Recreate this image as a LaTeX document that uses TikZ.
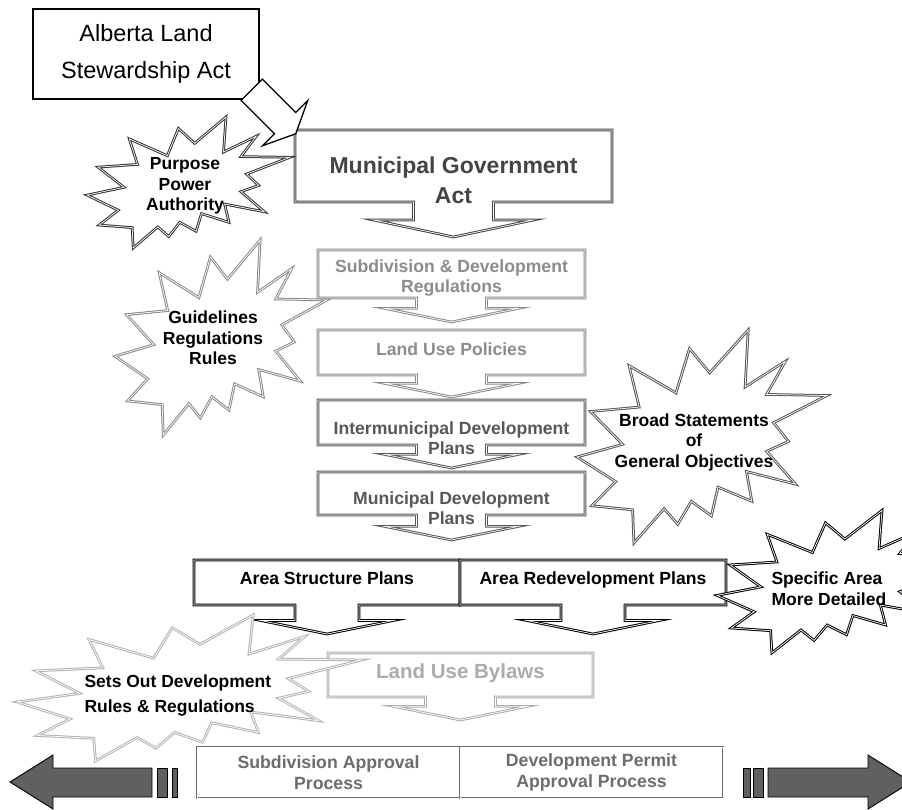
\documentclass[tikz,border=0pt]{standalone}
\usepackage{fontspec}
\setmainfont{Liberation Sans}
\usetikzlibrary{shapes.arrows,positioning}
\definecolor{actgray}{RGB}{68,68,68}
\definecolor{regsgray}{RGB}{140,140,140}
\definecolor{plangray}{RGB}{88,88,88}
\definecolor{bylawgray}{RGB}{172,172,172}
\definecolor{procgray}{RGB}{108,108,108}
\definecolor{sidegray}{RGB}{96,96,96}
\definecolor{burstdark}{RGB}{50,50,50}
\definecolor{burstmid}{RGB}{85,85,85}
\definecolor{burstlight}{RGB}{138,138,138}
\definecolor{burstpale}{RGB}{178,178,178}
% explosion outline, unit square
\newcommand\sealshape{(0.5306,0.201) -- (0.6847,0) -- (0.6725,0.2675) -- (0.8337,0.1469)
 -- (0.7583,0.3024) -- (1,0.3076) -- (0.7863,0.4353) -- (0.8458,0.5227) -- (0.7583,0.5699)
 -- (0.8739,0.7237) -- (0.6778,0.6644) -- (0.6995,0.8042) -- (0.5639,0.7377) -- (0.5376,0.8723)
 -- (0.457,0.8042) -- (0.4028,0.9126) -- (0.3485,0.8391) -- (0.2276,1) -- (0.2225,0.8444)
 -- (0.0595,0.8252) -- (0.1542,0.7116) -- (0,0.5962) -- (0.1822,0.5367) -- (0.0543,0.3827)
 -- (0.2487,0.3619) -- (0.2084,0.1678) -- (0.3958,0.2955) -- (0.4501,0.0874) -- cycle}
\tikzset{
 actbox/.style={
 rectangle,
 draw=black,
 line width=1.5pt,
 fill=white,
 align=center,
 minimum width=226pt,
 minimum height=90pt,
 font=\fontsize{23.5}{37}\selectfont
 },
 planbox/.style={
 arrow box,
 draw=#1,
 line width=1pt,
 double=white,
 double distance=0.7pt,
 fill=white,
 inner sep=0pt,
 outer sep=0pt,
 minimum width=267pt,
 arrow box arrows={north:0pt, east:0pt, west:0pt},
 arrow box shaft width=70pt,
 arrow box head extend=32pt,
 arrow box tip angle=157
 },
 plantext/.style={
 text=#1,
 align=center,
 font=\fontsize{17.6}{20.5}\selectfont\bfseries
 },
 procbox/.style={
 rectangle,
 draw=procgray,
 line width=1pt,
 double=white,
 double distance=0.7pt,
 fill=white,
 outer sep=0pt,
 minimum width=263pt,
 minimum height=51pt,
 align=center,
 text=procgray,
 font=\fontsize{17.7}{21}\selectfont\bfseries
 },
 burst/.style={draw=#1, line width=1pt, double=white, double distance=0.7pt, fill=white},
 bursttext/.style={align=center, font=\fontsize{17.5}{20.5}\selectfont\bfseries},
 blockarrow/.style={draw=black, line width=1.3pt, fill=white},
 sidearrow/.style={draw=black, line width=0.9pt, fill=sidegray}
}
\begin{document}
\begin{tikzpicture}[x=1pt, y=-1pt]
 \useasboundingbox (0,0) rectangle (902,810);
 \clip (0,0) rectangle (902,810);

 % the acts
 \node[actbox] (alberta) at (146,54) {Alberta Land\\Stewardship Act};
 \node[planbox=actgray, minimum width=317pt, minimum height=72pt,
 arrow box shaft width=80pt, arrow box head extend=40pt,
 arrow box south arrow=35pt, arrow box tip angle=156] (mga) at (453.5,166) {};
 \node[plantext=actgray, font=\fontsize{23}{30}\selectfont\bfseries] (mgatext) at (453.5,180) {Municipal Government\\Act};

 % the plans
 \node[planbox=regsgray, minimum height=48pt, arrow box south arrow=24pt] (subdev) at (451.5,274) {};
 \node[plantext=regsgray] (subdevtext) at (451.5,278) {Subdivision \& Development\\Regulations};
 \node[planbox=regsgray, minimum height=45pt, arrow box south arrow=22pt] (lup) at (451.5,352.5) {};
 \node[plantext=regsgray] (luptext) at (451.5,349) {Land Use Policies};
 \node[planbox=plangray, minimum height=45pt, arrow box south arrow=23pt] (idp) at (451.5,422.5) {};
 \node[plantext=plangray] (idptext) at (451.5,438) {Intermunicipal Development\\Plans};
 \node[planbox=plangray, minimum height=43pt, arrow box south arrow=25pt] (mdp) at (451.5,493.5) {};
 \node[plantext=plangray] (mdptext) at (451.5,508) {Municipal Development\\Plans};

 \node[planbox=black, minimum width=266pt, minimum height=45pt, arrow box shaft width=64pt,
 arrow box head extend=34pt, arrow box south arrow=29pt] (asp) at (327,582.5) {};
 \node[plantext=black, anchor=base] (asptext) at (327,584.5) {Area Structure Plans};
 \node[planbox=black, minimum width=266pt, minimum height=45pt, arrow box shaft width=64pt,
 arrow box head extend=34pt, arrow box south arrow=29pt, right=0pt of asp] (arp) {};
 \node[plantext=black, anchor=base] (arptext) at (593,584.5) {Area Redevelopment Plans};

 \node[planbox=bylawgray, minimum width=265pt, minimum height=44pt, arrow box south arrow=23pt] (lub) at (460.5,675) {};
 \node[plantext=bylawgray, font=\fontsize{20.5}{24}\selectfont\bfseries] (lubtext) at (460.5,673) {Land Use Bylaws};

 \node[procbox] (sap) at (328.5,772.5) {Subdivision Approval\\Process};
 \node[procbox, right=0pt of sap] (dpap) {Development Permit\\Approval Process};

 % side arrows
 \draw[sidearrow] (10,782) -- (53,755) -- (53,768) -- (152,768) -- (152,797) -- (53,797) -- (53,809) -- cycle;
 \draw[sidearrow] (157,768) rectangle (167,797);
 \draw[sidearrow] (172,768) rectangle (177,797);
 \draw[sidearrow] (911,782) -- (868,755) -- (868,768) -- (768,768) -- (768,797) -- (868,797) -- (868,809) -- cycle;
 \draw[sidearrow] (743,768) rectangle (750,797);
 \draw[sidearrow] (753,768) rectangle (763,797);

 % explosions
 \draw[burst=burstdark, shift={(87,117)}, xscale=203, yscale=131] \sealshape;
 \node[bursttext] (purpose) at (185,186) {Purpose\\Power\\Authority};
 \draw[burst=burstlight, shift={(115,240)}, xscale=212, yscale=195] \sealshape;
 \node[bursttext] (guide) at (213,338) {Guidelines\\Regulations\\Rules};
 \draw[burst=burstmid, shift={(577,330)}, xscale=250, yscale=213] \sealshape;
 \node[bursttext] (broad) at (694,442) {Broad Statements\\of\\General Objectives};
 \draw[burst=black, shift={(717,510.4)}, xscale=241, yscale=142.5] \sealshape;
 \node[bursttext, align=left, anchor=west] (specific) at (768,588.5) {Specific Area\\More Detailed};
 \draw[burst=burstpale, shift={(17,615)}, xscale=345, yscale=146] \sealshape;
 \node[bursttext, align=left, anchor=west, font=\fontsize{17.5}{25}\selectfont\bfseries] (setsout) at (81,695.5) {Sets Out Development\\Rules \& Regulations};

 % act to act
 \draw[blockarrow, shift={(alberta.south east)}] (-18.6,0.6) -- (2.6,-20.6) -- (36,12.8) -- (48,0.8)
 -- (36,34) -- (2.8,46) -- (14.8,34) -- cycle;
\end{tikzpicture}
\end{document}
